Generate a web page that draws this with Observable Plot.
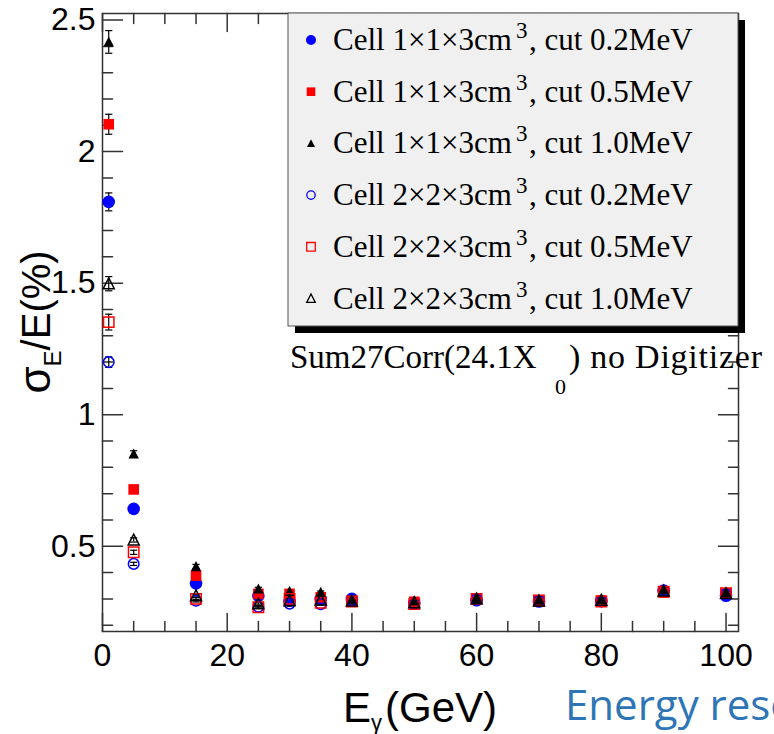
<!DOCTYPE html>
<html><head><meta charset="utf-8">
<script src="https://cdn.jsdelivr.net/npm/d3@7"></script>
<script src="https://cdn.jsdelivr.net/npm/@observablehq/plot@0.6"></script>
<style>body{margin:0;background:#fff} #chart svg{display:block;background:#fff}</style>
</head><body><div id="chart"></div>
<script>
// ---- data ----
const energies = [1, 5, 15, 25, 30, 35, 40, 50, 60, 70, 80, 90, 100];
const cellSizes = ["1×1×3", "1×1×3", "1×1×3", "2×2×3", "2×2×3", "2×2×3"];
const cuts = ["0.2", "0.5", "1.0", "0.2", "0.5", "1.0"];
const s1 = [1.809, 0.642, 0.359, 0.312, 0.293, 0.300, 0.300, 0.285, 0.295, 0.290, 0.292, 0.330, 0.312];
const s2 = [2.104, 0.716, 0.388, 0.319, 0.319, 0.306, 0.293, 0.289, 0.300, 0.295, 0.293, 0.325, 0.320];
const s3 = [2.417, 0.851, 0.423, 0.338, 0.329, 0.325, 0.296, 0.293, 0.302, 0.296, 0.298, 0.328, 0.321];
const s4 = [1.200, 0.433, 0.293, 0.270, 0.282, 0.280, 0.295, 0.282, 0.298, 0.292, 0.290, 0.333, 0.318];
const s5 = [1.352, 0.477, 0.300, 0.268, 0.300, 0.285, 0.290, 0.280, 0.300, 0.294, 0.290, 0.327, 0.322];
const s6 = [1.498, 0.524, 0.312, 0.281, 0.293, 0.296, 0.292, 0.285, 0.300, 0.292, 0.295, 0.330, 0.320];
const e1 = [0.034, 0.010, 0.007, 0.005, 0.005, 0.005, 0.005, 0.005, 0.005, 0.005, 0.005, 0.005, 0.005];
const e2 = [0.038, 0.011, 0.007, 0.005, 0.005, 0.005, 0.005, 0.005, 0.005, 0.005, 0.005, 0.005, 0.005];
const e3 = [0.043, 0.012, 0.008, 0.006, 0.005, 0.005, 0.005, 0.005, 0.005, 0.005, 0.005, 0.005, 0.005];
const e4 = [0.020, 0.006, 0.005, 0.004, 0.004, 0.004, 0.004, 0.004, 0.004, 0.004, 0.004, 0.004, 0.004];
const e5 = [0.030, 0.008, 0.005, 0.004, 0.004, 0.004, 0.004, 0.004, 0.004, 0.004, 0.004, 0.004, 0.004];
const e6 = [0.027, 0.008, 0.005, 0.004, 0.004, 0.004, 0.004, 0.004, 0.004, 0.004, 0.004, 0.004, 0.004];
const xMajor = [0, 20, 40, 60, 80, 100];
const xMinor = [5, 10, 15, 25, 30, 35, 45, 50, 55, 65, 70, 75, 85, 90, 95];
const yMajor = [0.5, 1, 1.5, 2, 2.5];
const yMinor = [0.2, 0.3, 0.4, 0.6, 0.7, 0.8, 0.9, 1.1, 1.2, 1.3, 1.4, 1.6, 1.7, 1.8, 1.9, 2.1, 2.2, 2.3, 2.4];
const xTickLabels = ["0", "20", "40", "60", "80", "100"];
const yTickLabels = ["0.5", "1", "1.5", "2", "2.5"];

// ---- symbols ----
const circleSym = d3.symbolCircle;
const squareSym = {draw(c, size) { const r = Math.sqrt(size / Math.PI); c.moveTo(-r, -r); c.lineTo(r, -r); c.lineTo(r, r); c.lineTo(-r, r); c.closePath(); }};
const triSym = {draw(c, size) { const r = Math.sqrt(size / Math.PI); c.moveTo(0, -r * 1.05); c.lineTo(r, r * 0.9); c.lineTo(-r, r * 0.9); c.closePath(); }};
const capSym = {draw(c, size) { const r = Math.sqrt(size / Math.PI); c.moveTo(-r, 0); c.lineTo(r, 0); }};
const tickShape = {draw(c, l) { c.moveTo(0, 0); c.lineTo(0, -l); }};

const styles = [
  {sym: circleSym, r: 6.3, fill: "#0000ff", stroke: "none", lr: 5},
  {sym: squareSym, r: 5.3, fill: "#ff0000", stroke: "none", lr: 4.3},
  {sym: triSym, r: 5.2, fill: "#000000", stroke: "none", lr: 4},
  {sym: circleSym, r: 5.3, fill: "none", stroke: "#0000ff", lr: 4.2},
  {sym: squareSym, r: 5.2, fill: "none", stroke: "#ff0000", lr: 4.3},
  {sym: triSym, r: 5.5, fill: "none", stroke: "#000000", lr: 4.3}
];
const values = [s1, s2, s3, s4, s5, s6];
const errors = [e1, e2, e3, e4, e5, e6];
const series = values.map((vals, k) => energies.map((E, i) => ({E, v: vals[i], lo: vals[i] - errors[k][i], hi: vals[i] + errors[k][i]})));

const axisColor = "#333";
const tickMarks = [
  Plot.vector(xMajor, {x: d => d, frameAnchor: "bottom", length: 18, rotate: 0, anchor: "start", shape: tickShape, stroke: axisColor, strokeWidth: 1.5}),
  Plot.vector(xMinor, {x: d => d, frameAnchor: "bottom", length: 10, rotate: 0, anchor: "start", shape: tickShape, stroke: axisColor, strokeWidth: 1.5}),
  Plot.vector(xMajor, {x: d => d, frameAnchor: "top", length: 18, rotate: 180, anchor: "start", shape: tickShape, stroke: axisColor, strokeWidth: 1.5}),
  Plot.vector(xMinor, {x: d => d, frameAnchor: "top", length: 10, rotate: 180, anchor: "start", shape: tickShape, stroke: axisColor, strokeWidth: 1.5}),
  Plot.vector(yMajor, {y: d => d, frameAnchor: "left", length: 20, rotate: 90, anchor: "start", shape: tickShape, stroke: axisColor, strokeWidth: 1.5}),
  Plot.vector(yMinor, {y: d => d, frameAnchor: "left", length: 10, rotate: 90, anchor: "start", shape: tickShape, stroke: axisColor, strokeWidth: 1.5}),
  Plot.vector(yMajor, {y: d => d, frameAnchor: "right", length: 20, rotate: -90, anchor: "start", shape: tickShape, stroke: axisColor, strokeWidth: 1.5}),
  Plot.vector(yMinor, {y: d => d, frameAnchor: "right", length: 10, rotate: -90, anchor: "start", shape: tickShape, stroke: axisColor, strokeWidth: 1.5})
];

const dataMarks = [];
series.forEach((rows) => {
  dataMarks.push(Plot.ruleX(rows, {x: "E", y1: "lo", y2: "hi", stroke: "#000", strokeWidth: 1.2}));
  dataMarks.push(Plot.dot(rows, {x: "E", y: "lo", symbol: capSym, r: 3.6, stroke: "#000", strokeWidth: 1.2}));
  dataMarks.push(Plot.dot(rows, {x: "E", y: "hi", symbol: capSym, r: 3.6, stroke: "#000", strokeWidth: 1.2}));
});
series.forEach((rows, k) => {
  const s = styles[k];
  dataMarks.push(Plot.dot(rows, {x: "E", y: "v", symbol: s.sym, r: s.r, fill: s.fill, stroke: s.stroke, strokeWidth: 1.5}));
});

const plot = Plot.plot({
  width: 774, height: 734,
  marginLeft: 102, marginRight: 36, marginTop: 13, marginBottom: 103,
  x: {domain: [0, 102]},
  y: {domain: [0.176, 2.525]},
  style: {fontFamily: "'Liberation Sans', Arial, sans-serif", background: "#fff", color: "#000"},
  marks: [
    Plot.axisX(xMajor, {tickSize: 0, tickPadding: 12, fontSize: 32, tickFormat: (d, i) => xTickLabels[i], label: null}),
    Plot.axisY(yMajor, {tickSize: 0, tickPadding: 7, fontSize: 32, tickFormat: (d, i) => yTickLabels[i], label: null}),
    Plot.frame({stroke: axisColor, strokeWidth: 1.5}),
    ...tickMarks,
    ...dataMarks
  ]
});

const svg = d3.select(plot);
// y axis label
const yl = svg.append("text").attr("transform", "translate(50,322) rotate(-90)")
  .attr("text-anchor", "middle").attr("font-family", "'Liberation Sans', Arial, sans-serif").attr("font-size", 40).attr("fill", "#000");
yl.append("tspan").attr("font-size", 44).text("σ");
yl.append("tspan").attr("font-size", 24).attr("dy", 11).text("E");
yl.append("tspan").attr("dy", -11).text("/E(%)");
// x axis label
const xl = svg.append("text").attr("x", 343).attr("y", 722).attr("text-anchor", "start")
  .attr("font-family", "'Liberation Sans', Arial, sans-serif").attr("font-size", 42).attr("fill", "#000");
xl.append("tspan").text("E");
xl.append("tspan").attr("font-size", 22).attr("dy", 8).text("γ");
xl.append("tspan").attr("dy", -8).attr("dx", 3).text("(GeV)");

// legend
const lg = svg.append("g").attr("text-anchor", "start");
lg.append("rect").attr("x", 295).attr("y", 20).attr("width", 450).attr("height", 313).attr("fill", "#000");
lg.append("rect").attr("x", 288).attr("y", 13).attr("width", 450).attr("height", 313).attr("fill", "#f0f0f0").attr("stroke", "#555").attr("stroke-width", 1);
styles.forEach((s, k) => {
  const base = 50 + k * 51.7;
  lg.append("path").attr("transform", `translate(311,${base - 10})`)
    .attr("d", d3.symbol(s.sym, Math.PI * s.lr * s.lr)())
    .attr("fill", s.fill).attr("stroke", s.stroke).attr("stroke-width", 1.3);
  const t = lg.append("text").attr("y", base).attr("text-anchor", "start").attr("font-family", "'Liberation Serif', 'Times New Roman', serif").attr("font-size", 31).attr("fill", "#000");
  t.append("tspan").attr("x", 333).text(`Cell ${cellSizes[k]}cm`);
  t.append("tspan").attr("x", 516).attr("dy", -12).attr("font-size", 23).text("3");
  t.append("tspan").attr("x", 529).attr("dy", 12).text(`, cut ${cuts[k]}MeV`);
});
// annotation
const an = svg.append("text").attr("y", 368).attr("text-anchor", "start").attr("font-family", "'Liberation Serif', 'Times New Roman', serif").attr("font-size", 33).attr("fill", "#000");
an.append("tspan").attr("x", 290).text("Sum27Corr(24.1X");
an.append("tspan").attr("x", 555).attr("dy", 26).attr("font-size", 22).text("0");
an.append("tspan").attr("x", 569).attr("dy", -26).attr("font-size", 34).attr("textLength", 193).attr("lengthAdjust", "spacing").text(") no Digitizer");
// slide caption fragment
svg.append("text").attr("x", 565).attr("y", 720).attr("text-anchor", "start").attr("font-family", "'Open Sans', sans-serif").attr("font-size", 42).attr("fill", "#2e75b6").text("Energy resolution");

document.getElementById("chart").appendChild(plot);
</script></body></html>
